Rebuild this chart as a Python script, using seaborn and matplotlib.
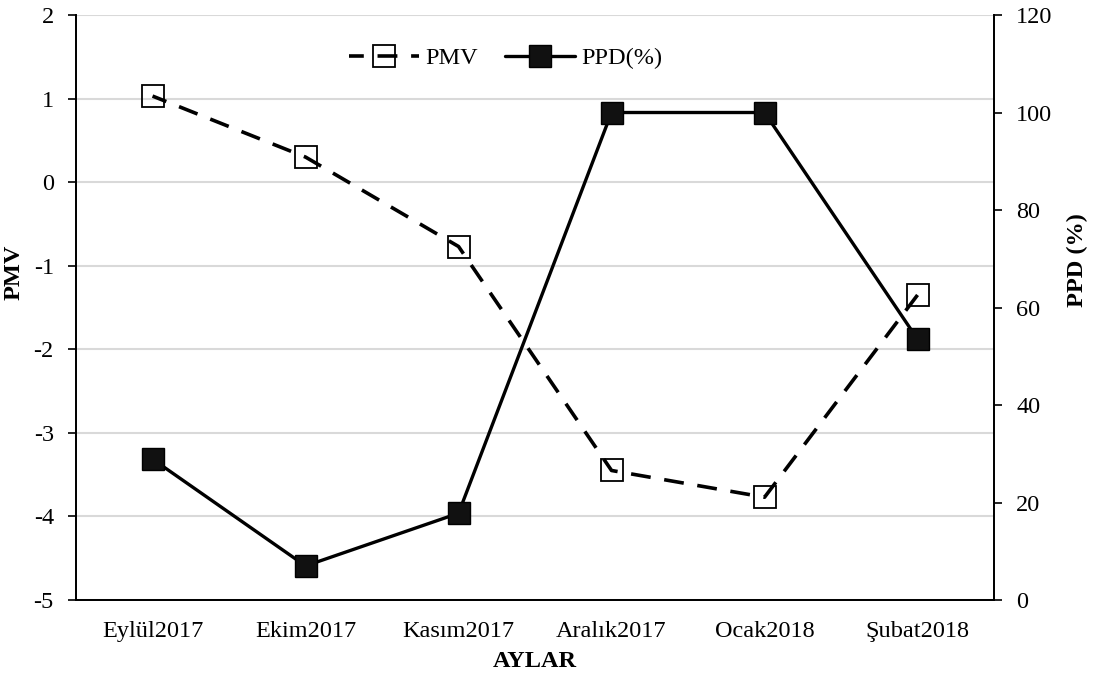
import numpy as np
import pandas as pd
import seaborn as sns
import matplotlib.pyplot as plt

months = ['Eylül2017', 'Ekim2017', 'Kasım2017', 'Aralık2017', 'Ocak2018', 'Şubat2018']
pmv = [1.03, 0.30, -0.77, -3.45, -3.77, -1.35]
ppd = [28.9, 7.0, 17.8, 100.0, 100.0, 53.5]

sns.set_style('white')
plt.rcParams['font.family'] = ['Liberation Serif', 'DejaVu Serif']
plt.rcParams['axes.unicode_minus'] = False
plt.rcParams['text.color'] = 'black'
plt.rcParams['axes.labelcolor'] = 'black'
plt.rcParams['xtick.color'] = 'black'
plt.rcParams['ytick.color'] = 'black'
fs = 17.5

df = pd.DataFrame({'month': months, 'PMV': pmv, 'PPD': ppd})

fig = plt.figure(figsize=(10.99, 6.82), dpi=100)
ax = fig.add_axes([0.0692, 0.1202, 0.8353, 0.8578])
ax2 = ax.twinx()

sns.lineplot(data=df, x='month', y='PMV', ax=ax, color='black', lw=2.6,
             linestyle=(1.4, (5.5, 3.8)), marker='s', markersize=16,
             markerfacecolor='none', markeredgecolor='black', markeredgewidth=1.3,
             label='PMV', legend=False)
sns.lineplot(data=df, x='month', y='PPD', ax=ax2, color='black', lw=2.4,
             marker='s', markersize=15.5, markerfacecolor='#111111',
             markeredgecolor='black', markeredgewidth=1.0,
             label='PPD(%)', legend=False)

ax.set_ylim(-5, 2)
ax.set_yticks(range(-5, 3))
ax2.set_ylim(0, 120)
ax2.set_yticks(range(0, 121, 20))
ax.set_xlim(-0.5, 5.5)

# category ticks between months, labels at centers
ax.set_xticks(np.arange(-0.5, 6, 1))
ax.set_xticklabels([])
ax.set_xticks(range(6), minor=True)
ax.set_xticklabels(months, minor=True)
ax.tick_params(axis='x', which='major', length=6, width=1.2, color='black', direction='out')
ax.tick_params(axis='x', which='minor', length=0, labelsize=fs, pad=15)
ax.tick_params(axis='y', length=6, width=1.2, color='black', direction='out', labelsize=fs, pad=10)
ax2.tick_params(axis='y', length=6, width=1.2, color='black', direction='out', labelsize=fs, pad=10)

ax.yaxis.grid(True, color='#d9d9d9', lw=1.5)
ax.set_axisbelow(True)

for a in (ax, ax2):
    a.spines['top'].set_visible(False)
    for s in ('left', 'right', 'bottom'):
        a.spines[s].set_color('black')
        a.spines[s].set_linewidth(1.3)

ax.set_xlabel('AYLAR', fontsize=fs, fontweight='bold')
ax.xaxis.set_label_coords(0.5, -0.087)
ax.set_ylabel('PMV', fontsize=fs, fontweight='bold')
ax.yaxis.set_label_coords(-0.0556, 0.56)
ax2.set_ylabel('PPD (%)', fontsize=fs, fontweight='bold')
ax2.yaxis.set_label_coords(1.0795, 0.581)

h1, l1 = ax.get_legend_handles_labels()
h2, l2 = ax2.get_legend_handles_labels()
ax2.legend(h1 + h2, l1 + l2, loc='center', bbox_to_anchor=(0.468, 0.9265),
           ncol=2, frameon=False, fontsize=fs, handlelength=2.9,
           columnspacing=1.1, handletextpad=0.25)

fig.savefig('out.png', dpi=100)
